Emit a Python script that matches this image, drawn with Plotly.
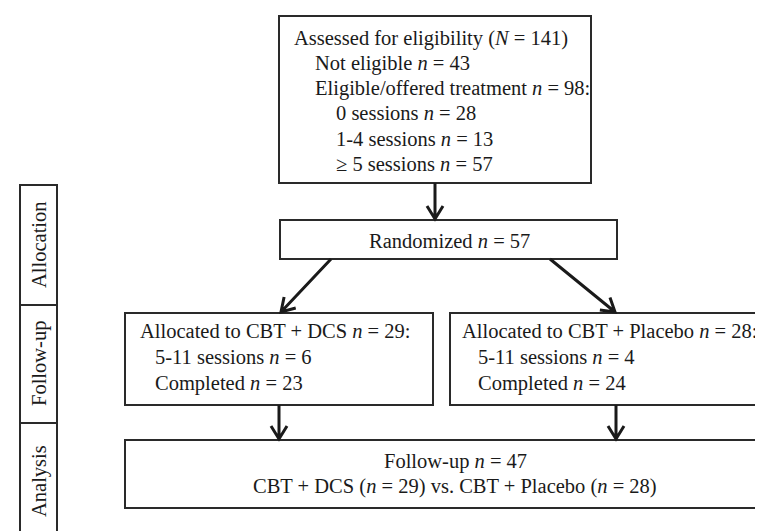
import math
import plotly.graph_objects as go

# ---------------- data (counts shown in the flow chart) ----------------
assessed_N = 141
not_eligible_n = 43
eligible_n = 98
session_labels = ["0 sessions", "1-4 sessions", "≥ 5 sessions"]
session_counts = [28, 13, 57]
randomized_n = 57
arm_names = ["CBT + DCS", "CBT + Placebo"]
arm_allocated = [29, 28]
arm_partial = [6, 4]          # 5-11 sessions
arm_completed = [23, 24]
followup_n = 47
phase_labels = ["Allocation", "Follow-up", "Analysis"]

# ---------------- text built from the data ----------------
N = "<i>N</i>"
n = "<i>n</i>"
top_lines = [f"Assessed for eligibility ({N} = {assessed_N})",
             f"Not eligible {n} = {not_eligible_n}",
             f"Eligible/offered treatment {n} = {eligible_n}:"] + \
            [f"{lab} {n} = {c}" for lab, c in zip(session_labels, session_counts)]
rand_line = f"Randomized {n} = {randomized_n}"
arm_lines = [[f"Allocated to {nm} {n} = {a}:",
              f"5-11 sessions {n} = {p}",
              f"Completed {n} = {c}"]
             for nm, a, p, c in zip(arm_names, arm_allocated, arm_partial, arm_completed)]
bottom_lines = [f"Follow-up {n} = {followup_n}",
                f"{arm_names[0]} ({n} = {arm_allocated[0]}) vs. {arm_names[1]} ({n} = {arm_allocated[1]})"]

# ---------------- geometry (pixel layout of the chart) ----------------
W, H = 763, 531
FONT = dict(family="Liberation Serif, Times New Roman, serif", size=20.5, color="#1a1a1a")
BOX_COL, BOX_W = "#2a2a2a", 2
ARROW_COL, ARROW_W = "#1a1a1a", 3

box_top = (271, 8, 583, 175)
box_rand = (272, 212, 609, 251)
box_left = (117, 305, 425, 397)
box_right = (442, 305, 774, 397)
box_bottom = (117, 432, 777, 500)
side_x = (12, 49)
side_y = [177, 297, 415, 545]

top_x = [285, 306, 306, 327, 327, 327]
top_base = [37, 62, 87, 112, 138, 163]
arm_x = [[131, 146, 146], [453, 469, 469]]
arm_base = [330, 356, 382]
rand_pos = (441, 240)
bottom_cx = 447
bottom_base = [460, 485]

arrows = [((427, 175), (427, 211)),
          ((323, 251), (273, 304)),
          ((542, 251), (607, 304)),
          ((271, 397), (271, 431)),
          ((608, 397), (608, 431))]

fig = go.Figure()
shapes = []
annos = []


def rect(b):
    shapes.append(dict(type="rect", xref="x", yref="y", x0=b[0], y0=b[1], x1=b[2], y1=b[3],
                       line=dict(color=BOX_COL, width=BOX_W), fillcolor="rgba(0,0,0,0)"))


def text(x, baseline, s, anchor="left"):
    annos.append(dict(x=x, y=baseline - 7, xref="x", yref="y", text=s, showarrow=False,
                      xanchor=anchor, yanchor="middle", font=FONT, borderpad=0))


def arrow(p0, p1, L=13, w=8):
    dx, dy = p1[0] - p0[0], p1[1] - p0[1]
    d = math.hypot(dx, dy)
    ux, uy = dx / d, dy / d
    nx, ny = -uy, ux
    h1 = (p1[0] - L * ux + w * nx, p1[1] - L * uy + w * ny)
    h2 = (p1[0] - L * ux - w * nx, p1[1] - L * uy - w * ny)
    path = (f"M {p0[0]},{p0[1]} L {p1[0]},{p1[1]} "
            f"M {h1[0]:.2f},{h1[1]:.2f} L {p1[0]},{p1[1]} L {h2[0]:.2f},{h2[1]:.2f}")
    shapes.append(dict(type="path", xref="x", yref="y", path=path,
                       line=dict(color=ARROW_COL, width=ARROW_W)))


for b in (box_top, box_rand, box_left, box_right, box_bottom):
    rect(b)

for i in range(3):
    rect((side_x[0], side_y[i], side_x[1], side_y[i + 1]))
    cy = (side_y[i] + min(side_y[i + 1], H)) / 2
    annos.append(dict(x=31, y=cy, xref="x", yref="y", text=phase_labels[i], showarrow=False,
                      textangle=-90, xanchor="center", yanchor="middle", font=FONT))

for x, yb, s in zip(top_x, top_base, top_lines):
    text(x, yb, s)
text(rand_pos[0], rand_pos[1], rand_line, anchor="center")
for k in range(2):
    for x, yb, s in zip(arm_x[k], arm_base, arm_lines[k]):
        text(x, yb, s)
for yb, s in zip(bottom_base, bottom_lines):
    text(bottom_cx, yb, s, anchor="center")

for p0, p1 in arrows:
    arrow(p0, p1)

fig.update_layout(
    width=W, height=H, margin=dict(l=0, r=0, t=0, b=0),
    paper_bgcolor="white", plot_bgcolor="white",
    xaxis=dict(range=[0, W], visible=False, fixedrange=True),
    yaxis=dict(range=[H, 0], visible=False, fixedrange=True),
    shapes=shapes, annotations=annos, showlegend=False,
)
fig.write_html("out.html")
